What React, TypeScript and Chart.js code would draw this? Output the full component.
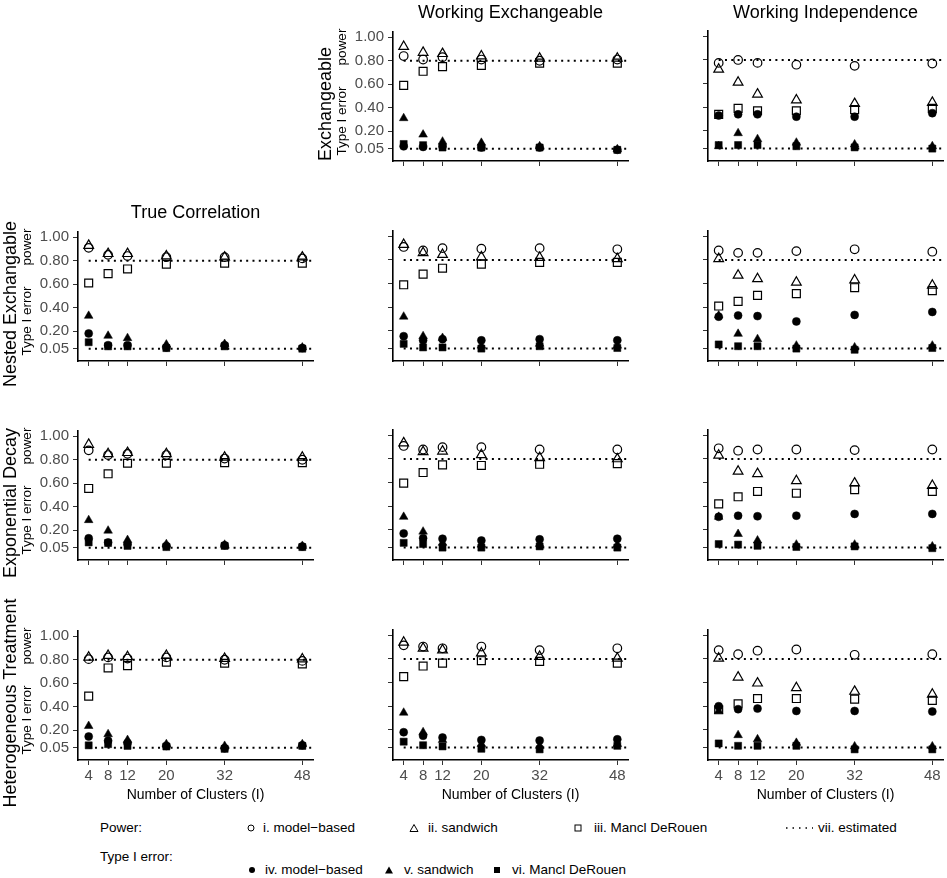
import React, { useEffect, useRef } from "react";
import { Chart, registerables } from "chart.js";
Chart.register(...registerables);

const FONT = "'Liberation Sans', Arial, Helvetica, sans-serif";

const clusters = [4, 8, 12, 20, 32, 48];
const yTickValues = [0.05, 0.2, 0.4, 0.6, 0.8, 1.0];
const estimatedPower = 0.8;
const nominalTypeI = 0.05;

const colTitles = ["True Correlation", "Working Exchangeable", "Working Independence"];
const rowTitles = ["Exchangeable", "Nested Exchangable", "Exponential Decay", "Heterogeneous Treatment"];
const xAxisTitle = "Number of Clusters (I)";

// Exchangeable / Working Exchangeable
const exWE_pMB = [0.84, 0.81, 0.83, 0.81, 0.8, 0.81];
const exWE_pSW = [0.92, 0.87, 0.86, 0.84, 0.82, 0.82];
const exWE_pMD = [0.59, 0.71, 0.75, 0.76, 0.78, 0.78];
const exWE_tMB = [0.07, 0.065, 0.07, 0.06, 0.06, 0.04];
const exWE_tSW = [0.31, 0.17, 0.11, 0.1, 0.07, 0.045];
const exWE_tMD = [0.09, 0.08, 0.06, 0.06, 0.06, 0.04];
// Exchangeable / Working Independence
const exWI_pMB = [0.775, 0.8, 0.775, 0.76, 0.75, 0.77];
const exWI_pSW = [0.72, 0.61, 0.51, 0.46, 0.43, 0.44];
const exWI_pMD = [0.34, 0.39, 0.37, 0.37, 0.38, 0.39];
const exWI_tMB = [0.33, 0.34, 0.34, 0.32, 0.32, 0.35];
const exWI_tSW = [0.07, 0.18, 0.13, 0.1, 0.085, 0.07];
const exWI_tMD = [0.08, 0.08, 0.08, 0.07, 0.06, 0.05];
// Nested Exchangable / True Correlation
const neTC_pMB = [0.91, 0.85, 0.84, 0.83, 0.83, 0.82];
const neTC_pSW = [0.93, 0.86, 0.86, 0.84, 0.83, 0.83];
const neTC_pMD = [0.61, 0.69, 0.73, 0.77, 0.78, 0.78];
const neTC_tMB = [0.18, 0.08, 0.08, 0.06, 0.08, 0.055];
const neTC_tSW = [0.33, 0.16, 0.14, 0.085, 0.09, 0.06];
const neTC_tMD = [0.105, 0.07, 0.07, 0.055, 0.07, 0.05];
// Nested Exchangable / Working Exchangeable
const neWE_pMB = [0.91, 0.88, 0.9, 0.895, 0.9, 0.89];
const neWE_pSW = [0.93, 0.86, 0.845, 0.825, 0.82, 0.81];
const neWE_pMD = [0.59, 0.68, 0.73, 0.765, 0.78, 0.78];
const neWE_tMB = [0.155, 0.12, 0.13, 0.12, 0.13, 0.12];
const neWE_tSW = [0.32, 0.155, 0.14, 0.075, 0.09, 0.075];
const neWE_tMD = [0.09, 0.06, 0.06, 0.05, 0.07, 0.055];
// Nested Exchangable / Working Independence
const neWI_pMB = [0.88, 0.86, 0.86, 0.875, 0.89, 0.87];
const neWI_pSW = [0.81, 0.67, 0.64, 0.61, 0.63, 0.585];
const neWI_pMD = [0.41, 0.45, 0.5, 0.515, 0.565, 0.54];
const neWI_tMB = [0.32, 0.33, 0.325, 0.28, 0.335, 0.36];
const neWI_tSW = [0.33, 0.175, 0.13, 0.075, 0.06, 0.075];
const neWI_tMD = [0.085, 0.07, 0.07, 0.05, 0.04, 0.055];
// Exponential Decay / True Correlation
const edTC_pMB = [0.88, 0.84, 0.85, 0.84, 0.81, 0.8];
const edTC_pSW = [0.93, 0.85, 0.86, 0.85, 0.82, 0.82];
const edTC_pMD = [0.555, 0.68, 0.77, 0.77, 0.775, 0.775];
const edTC_tMB = [0.13, 0.095, 0.08, 0.065, 0.07, 0.06];
const edTC_tSW = [0.285, 0.195, 0.115, 0.08, 0.075, 0.065];
const edTC_tMD = [0.095, 0.09, 0.065, 0.055, 0.065, 0.055];
// Exponential Decay / Working Exchangeable
const edWE_pMB = [0.91, 0.88, 0.9, 0.9, 0.88, 0.88];
const edWE_pSW = [0.935, 0.86, 0.865, 0.835, 0.81, 0.8];
const edWE_pMD = [0.595, 0.685, 0.75, 0.745, 0.755, 0.76];
const edWE_tMB = [0.17, 0.13, 0.125, 0.11, 0.12, 0.125];
const edWE_tSW = [0.31, 0.185, 0.09, 0.075, 0.08, 0.075];
const edWE_tMD = [0.09, 0.08, 0.05, 0.05, 0.06, 0.05];
// Exponential Decay / Working Independence
const edWI_pMB = [0.89, 0.87, 0.88, 0.88, 0.875, 0.88];
const edWI_pSW = [0.83, 0.695, 0.675, 0.615, 0.595, 0.575];
const edWI_pMD = [0.42, 0.48, 0.525, 0.51, 0.54, 0.525];
const edWI_tMB = [0.31, 0.32, 0.315, 0.32, 0.335, 0.335];
const edWI_tSW = [0.31, 0.165, 0.11, 0.075, 0.075, 0.06];
const edWI_tMD = [0.08, 0.075, 0.065, 0.055, 0.06, 0.045];
// Heterogeneous Treatment / True Correlation
const htTC_pMB = [0.805, 0.82, 0.81, 0.82, 0.8, 0.79];
const htTC_pSW = [0.82, 0.835, 0.825, 0.835, 0.81, 0.805];
const htTC_pMD = [0.49, 0.73, 0.75, 0.78, 0.77, 0.765];
const htTC_tMB = [0.145, 0.11, 0.09, 0.065, 0.045, 0.07];
const htTC_tSW = [0.235, 0.165, 0.115, 0.08, 0.065, 0.08];
const htTC_tMD = [0.07, 0.08, 0.065, 0.06, 0.04, 0.065];
// Heterogeneous Treatment / Working Exchangeable
const htWE_pMB = [0.915, 0.905, 0.89, 0.905, 0.875, 0.89];
const htWE_pSW = [0.94, 0.89, 0.875, 0.85, 0.82, 0.805];
const htWE_pMD = [0.65, 0.74, 0.765, 0.785, 0.78, 0.765];
const htWE_tMB = [0.18, 0.15, 0.135, 0.115, 0.11, 0.12];
const htWE_tSW = [0.345, 0.18, 0.115, 0.08, 0.065, 0.08];
const htWE_tMD = [0.1, 0.07, 0.06, 0.04, 0.035, 0.065];
// Heterogeneous Treatment / Working Independence
const htWI_pMB = [0.875, 0.84, 0.87, 0.88, 0.835, 0.84];
const htWI_pSW = [0.805, 0.645, 0.595, 0.555, 0.525, 0.5];
const htWI_pMD = [0.37, 0.42, 0.465, 0.465, 0.46, 0.45];
const htWI_tMB = [0.4, 0.375, 0.38, 0.36, 0.36, 0.355];
const htWI_tSW = [0.36, 0.155, 0.12, 0.09, 0.06, 0.06];
const htWI_tMD = [0.085, 0.065, 0.065, 0.065, 0.035, 0.035];

type Series = number[][];
const panels: { row: number; col: number; series: Series }[] = [
  { row: 0, col: 1, series: [exWE_pMB, exWE_pSW, exWE_pMD, exWE_tMB, exWE_tSW, exWE_tMD] },
  { row: 0, col: 2, series: [exWI_pMB, exWI_pSW, exWI_pMD, exWI_tMB, exWI_tSW, exWI_tMD] },
  { row: 1, col: 0, series: [neTC_pMB, neTC_pSW, neTC_pMD, neTC_tMB, neTC_tSW, neTC_tMD] },
  { row: 1, col: 1, series: [neWE_pMB, neWE_pSW, neWE_pMD, neWE_tMB, neWE_tSW, neWE_tMD] },
  { row: 1, col: 2, series: [neWI_pMB, neWI_pSW, neWI_pMD, neWI_tMB, neWI_tSW, neWI_tMD] },
  { row: 2, col: 0, series: [edTC_pMB, edTC_pSW, edTC_pMD, edTC_tMB, edTC_tSW, edTC_tMD] },
  { row: 2, col: 1, series: [edWE_pMB, edWE_pSW, edWE_pMD, edWE_tMB, edWE_tSW, edWE_tMD] },
  { row: 2, col: 2, series: [edWI_pMB, edWI_pSW, edWI_pMD, edWI_tMB, edWI_tSW, edWI_tMD] },
  { row: 3, col: 0, series: [htTC_pMB, htTC_pSW, htTC_pMD, htTC_tMB, htTC_tSW, htTC_tMD] },
  { row: 3, col: 1, series: [htWE_pMB, htWE_pSW, htWE_pMD, htWE_tMB, htWE_tSW, htWE_tMD] },
  { row: 3, col: 2, series: [htWI_pMB, htWI_pSW, htWI_pMD, htWI_tMB, htWI_tSW, htWI_tMD] },
];

const seriesStyles = [
  { style: "circle", filled: false, r: 4.3 },
  { style: "triangle", filled: false, r: 5.6 },
  { style: "rect", filled: false, r: 5.6 },
  { style: "circle", filled: true, r: 4 },
  { style: "triangle", filled: true, r: 5 },
  { style: "rect", filled: true, r: 5 },
];

const X_MIN = 1.8, X_MAX = 50.2, Y_MIN = -0.055, Y_MAX = 1.045;
const COL_LEFT = [78, 393, 708];
const ROW_TOP = [31, 231, 430, 630];
const PW = 235, PH = 130;
const LPAD = 62, TPAD = 12, RPAD = 14, BPAD = 32;

function Panel({ row, col, series }: { row: number; col: number; series: Series }) {
  const ref = useRef<HTMLCanvasElement>(null);
  const showY = col === 0 || (row === 0 && col === 1);
  const showX = row === 3;
  const W = PW + LPAD + RPAD;
  const H = PH + TPAD + BPAD;
  useEffect(() => {
    const datasets: any[] = series.map((vals, si) => {
      const st = seriesStyles[si];
      return {
        type: "scatter",
        data: clusters.map((x, i) => ({ x, y: vals[i] })),
        pointStyle: st.style,
        pointRadius: st.r,
        pointBackgroundColor: st.filled ? "#000" : "rgba(0,0,0,0)",
        pointBorderColor: "#000",
        pointBorderWidth: st.filled ? 0.5 : 1.2,
        showLine: false,
        order: 1,
      };
    });
    [estimatedPower, nominalTypeI].forEach((v) => {
      datasets.push({
        type: "line",
        data: [
          { x: clusters[0], y: v },
          { x: X_MAX, y: v },
        ],
        borderColor: "#000",
        borderWidth: 2,
        borderDash: [2, 4.3],
        borderCapStyle: "butt",
        pointRadius: 0,
        showLine: true,
        fill: false,
        order: 10,
      });
    });
    const tickFont = { family: FONT, size: 15 };
    const chart = new Chart(ref.current as HTMLCanvasElement, {
      type: "scatter",
      data: { datasets },
      options: {
        responsive: false,
        animation: false,
        devicePixelRatio: 1,
        layout: { padding: { top: TPAD, right: RPAD, left: 0, bottom: 0 } },
        plugins: { legend: { display: false }, tooltip: { enabled: false } },
        scales: {
          x: {
            type: "linear",
            min: X_MIN,
            max: X_MAX,
            afterBuildTicks: (s: any) => {
              s.ticks = clusters.map((v) => ({ value: v }));
            },
            afterFit: (s: any) => {
              s.height = BPAD;
            },
            grid: { display: true, drawOnChartArea: false, drawTicks: true, tickLength: 5, color: "#333", lineWidth: 1 },
            border: { display: true, color: "#000", width: 1.6 },
            ticks: {
              display: showX,
              autoSkip: false,
              maxRotation: 0,
              padding: 2,
              color: "#4d4d4d",
              font: tickFont,
              callback: (v: any) => String(v),
            },
          },
          y: {
            type: "linear",
            min: Y_MIN,
            max: Y_MAX,
            afterBuildTicks: (s: any) => {
              s.ticks = yTickValues.map((v) => ({ value: v }));
            },
            afterFit: (s: any) => {
              s.width = LPAD;
            },
            grid: { display: true, drawOnChartArea: false, drawTicks: true, tickLength: 5, color: "#333", lineWidth: 1 },
            border: { display: true, color: "#000", width: 1.6 },
            ticks: {
              display: showY,
              autoSkip: false,
              padding: 4,
              color: "#4d4d4d",
              font: tickFont,
              callback: (v: any) => Number(v).toFixed(2),
            },
          },
        },
      } as any,
    });
    return () => chart.destroy();
  }, []);
  return (
    <canvas
      ref={ref}
      width={W}
      height={H}
      style={{ position: "absolute", left: COL_LEFT[col] - LPAD, top: ROW_TOP[row] - TPAD, width: W, height: H }}
    />
  );
}

const abs = (x: number, y: number, extra: any = {}): any => ({
  position: "absolute",
  left: x,
  top: y,
  transform: "translate(-50%, -50%)",
  whiteSpace: "nowrap",
  lineHeight: 1,
  fontFamily: FONT,
  color: "#000",
  ...extra,
});

function Marker({ kind }: { kind: string }) {
  const s = 10;
  let el: any = null;
  if (kind === "oc") el = <circle cx={5} cy={5} r={3} fill="none" stroke="#000" strokeWidth={1} />;
  if (kind === "ot") el = <polygon points="5,1.5 9,8.5 1,8.5" fill="none" stroke="#000" strokeWidth={1} />;
  if (kind === "os") el = <rect x={2} y={2} width={6} height={6} fill="none" stroke="#000" strokeWidth={1} />;
  if (kind === "fc") el = <circle cx={5} cy={5} r={3} fill="#000" />;
  if (kind === "ft") el = <polygon points="5,1.5 9,8.5 1,8.5" fill="#000" />;
  if (kind === "fs") el = <rect x={2} y={2} width={6} height={6} fill="#000" />;
  return (
    <svg width={s} height={s} style={{ display: "block" }}>
      {el}
    </svg>
  );
}

const legendRow1 = [
  { kind: "oc", x: 251, tx: 263, label: "i. model\u2212based" },
  { kind: "ot", x: 414, tx: 428, label: "ii. sandwich" },
  { kind: "os", x: 578, tx: 594, label: "iii. Mancl DeRouen" },
];
const legendRow2 = [
  { kind: "fc", x: 252, tx: 265, label: "iv. model\u2212based" },
  { kind: "ft", x: 389, tx: 404, label: "v. sandwich" },
  { kind: "fs", x: 497, tx: 512, label: "vi. Mancl DeRouen" },
];

export default function App() {
  const legendY1 = 828;
  const legendY2 = 870;
  const lf = { fontSize: 13.5, transform: "translate(0, -50%)" };
  return (
    <div
      style={{
        position: "absolute",
        left: 0,
        top: 0,
        width: 947,
        height: 878,
        background: "#fff",
        overflow: "hidden",
        fontFamily: FONT,
      }}
    >
      {panels.map((p, i) => (
        <Panel key={i} row={p.row} col={p.col} series={p.series} />
      ))}
      {/* column titles */}
      <div style={abs(COL_LEFT[1] + PW / 2, 12, { fontSize: 18 })}>{colTitles[1]}</div>
      <div style={abs(COL_LEFT[2] + PW / 2, 12, { fontSize: 18 })}>{colTitles[2]}</div>
      <div style={abs(COL_LEFT[0] + PW / 2, 212, { fontSize: 18 })}>{colTitles[0]}</div>
      {/* row titles */}
      {rowTitles.map((t, r) => {
        const baseX = r === 0 ? 315 : 0;
        const cy = ROW_TOP[r] + PH / 2;
        return (
          <React.Fragment key={r}>
            <div style={abs(baseX + 10, cy + 8, { fontSize: 18, transform: "translate(-50%, -50%) rotate(-90deg)" })}>{t}</div>
            <div style={abs(baseX + 27, cy - 49, { fontSize: 13.5, transform: "translate(-50%, -50%) rotate(-90deg)" })}>power</div>
            <div style={abs(baseX + 27, cy + 25, { fontSize: 13.5, transform: "translate(-50%, -50%) rotate(-90deg)" })}>Type I error</div>
          </React.Fragment>
        );
      })}
      {/* x axis titles */}
      {COL_LEFT.map((l, c) => (
        <div key={c} style={abs(l + PW / 2, 794, { fontSize: 14 })}>
          {xAxisTitle}
        </div>
      ))}
      {/* legend */}
      <div style={abs(100, legendY1, lf)}>Power:</div>
      <div style={abs(100, 857, lf)}>Type I error:</div>
      {legendRow1.map((it, i) => (
        <React.Fragment key={"a" + i}>
          <div style={abs(it.x, legendY1)}>
            <Marker kind={it.kind} />
          </div>
          <div style={abs(it.tx, legendY1, lf)}>{it.label}</div>
        </React.Fragment>
      ))}
      {legendRow2.map((it, i) => (
        <React.Fragment key={"b" + i}>
          <div style={abs(it.x, legendY2)}>
            <Marker kind={it.kind} />
          </div>
          <div style={abs(it.tx, legendY2, lf)}>{it.label}</div>
        </React.Fragment>
      ))}
      <div style={abs(799, legendY1)}>
        <svg width={28} height={4} style={{ display: "block" }}>
          <line x1={1} y1={2} x2={28} y2={2} stroke="#000" strokeWidth={1.5} strokeDasharray="1.5 5" />
        </svg>
      </div>
      <div style={abs(818, legendY1, lf)}>vii. estimated</div>
    </div>
  );
}
